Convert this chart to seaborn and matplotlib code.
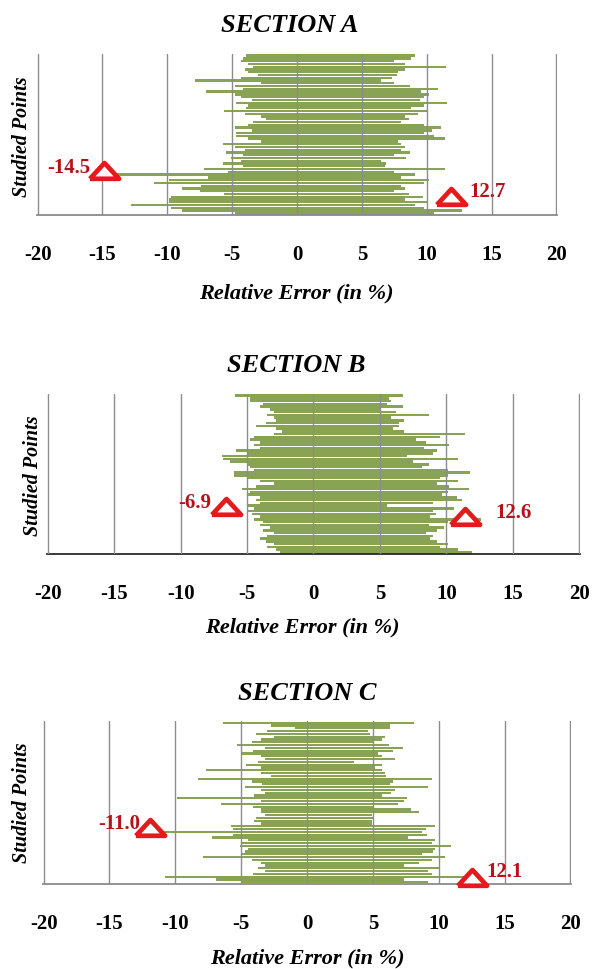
import numpy as np
import pandas as pd
import matplotlib
matplotlib.use("Agg")
import matplotlib.pyplot as plt
import seaborn as sns

# ---------------- data (rows listed top -> bottom) ----------------
A_neg = [-3.9, -4.2, -4.3, -3.8, -3.4, -4.0, -3.8, -3.0, -4.3, -7.9, -2.8, -4.8, -4.2, -7.0, -4.8,
         -4.3, -3.5, -4.7, -3.8, -3.9, -5.6, -4.0, -2.8, -2.4, -3.4, -3.8, -4.8, -3.5, -4.7,
         -4.7, -3.8, -2.8, -5.7, -4.8, -4.0, -5.5, -4.2, -5.1, -4.3, -5.7, -4.2, -7.2, -5.3, -14.5,
         -6.9, -9.9, -11.0, -7.4, -8.9, -7.5, -5.6, -9.7, -9.9, -9.9, -12.8, -9.7, -8.9, -4.8]
A_pos = [9.1, 8.8, 7.5, 8.3, 11.5, 8.3, 7.8, 7.7, 7.3, 6.5, 7.5, 8.7, 10.9, 9.6, 10.2,
         9.8, 9.5, 11.6, 9.8, 8.8, 10.1, 9.3, 8.3, 8.6, 8.0, 9.8, 11.1, 10.4, 9.8,
         10.6, 11.4, 7.8, 8.0, 8.3, 8.0, 8.7, 7.5, 8.4, 6.5, 6.9, 6.8, 11.4, 7.5, 9.1,
         8.0, 10.2, 9.8, 8.0, 8.3, 7.5, 8.6, 9.7, 8.3, 10.1, 9.1, 9.8, 12.7, 10.6]

B_neg = [-5.9, -4.8, -4.8, -3.8, -4.0, -3.3, -3.0, -3.5, -3.0, -2.8, -3.6, -4.3, -2.8, -2.4, -3.0,
         -4.5, -4.8, -4.0, -4.5, -4.0, -5.8, -5.0, -6.9, -6.8, -6.3, -5.0, -4.8, -4.5, -6.0,
         -6.0, -5.0, -4.0, -3.0, -4.3, -5.4, -4.8, -5.0, -4.0, -4.3, -4.0, -5.0, -4.5, -5.0, -4.6,
         -4.0, -4.5, -3.8, -4.0, -3.3, -3.8, -3.0, -3.5, -4.0, -3.6, -3.0, -3.5, -2.8, -2.5]
B_pos = [6.7, 5.7, 5.8, 5.5, 6.7, 5.0, 6.2, 8.7, 5.8, 6.8, 6.4, 6.4, 6.0, 6.8, 11.4,
         9.5, 7.7, 8.5, 10.2, 8.3, 9.3, 9.0, 7.0, 10.9, 7.5, 8.7, 8.2, 10.1, 11.8,
         10.1, 9.5, 10.9, 9.3, 10.2, 11.7, 10.1, 9.7, 10.8, 11.2, 9.0, 5.5, 10.6, 9.0, 9.2,
         8.8, 12.6, 10.1, 8.7, 9.8, 9.3, 8.5, 9.0, 8.8, 9.3, 10.1, 9.5, 10.9, 11.9]

C_neg = [-6.4, -2.7, -0.9, -3.0, -3.9, -2.5, -3.5, -4.2, -5.3, -3.2, -4.1, -5.0, -3.5, -3.2, -3.7,
         -4.6, -3.5, -7.7, -3.5, -2.7, -8.3, -4.2, -3.4, -4.7, -3.5, -3.2, -4.0, -9.9, -3.5,
         -6.5, -4.1, -3.5, -3.5, -3.2, -3.9, -4.0, -3.5, -5.8, -5.6, -11.0, -5.6, -7.2, -4.5, -5.0,
         -5.1, -4.5, -4.7, -5.0, -7.9, -4.2, -3.5, -3.2, -3.7, -3.2, -4.1, -10.8, -6.9, -4.9]
C_pos = [8.1, 6.3, 6.3, 4.6, 4.8, 5.9, 5.7, 5.0, 6.2, 7.3, 6.5, 5.4, 5.7, 6.7, 3.6,
         5.7, 5.2, 5.7, 5.9, 6.0, 9.5, 6.5, 6.3, 9.2, 6.7, 6.4, 5.7, 7.6, 7.4,
         6.9, 5.0, 7.9, 8.5, 4.9, 5.0, 4.9, 4.9, 9.7, 9.0, 8.7, 9.1, 7.7, 9.7, 9.5,
         10.9, 9.7, 9.6, 8.7, 10.5, 9.5, 8.5, 7.4, 10.0, 9.2, 9.5, 12.1, 7.4, 9.2]

sections = ["SECTION A", "SECTION B", "SECTION C"]
extreme_labels = [["-14.5", "12.7"], ["-6.9", "12.6"], ["-11.0", "12.1"]]
x_ticks = [-20, -15, -10, -5, 0, 5, 10, 15, 20]
x_label = "Relative Error (in %)"
y_label = "Studied Points"

# ---------------- styling / layout ----------------
W, H = 595, 970
sns.set_style("white")
plt.rcParams["font.family"] = ["Liberation Serif", "DejaVu Serif"]
plt.rcParams["text.color"] = "black"
plt.rcParams["xtick.color"] = "black"

fig = plt.figure(figsize=(W / 100, H / 100), dpi=100)

def fx(x):
    return x / W

def fy(y):
    return 1 - y / H

# axes boxes in pixels: left, right, top, bottom
boxes = [(37, 557, 55, 216), (47, 580, 395, 555), (43, 571, 722, 885)]
title_pos = [(290, 26), (296, 365), (307, 693)]
xlab_pos = [(296, 293), (302, 627), (307, 958)]
ylab_pos = [(22, 137), (33, 476), (22, 803)]
# marker (x value, row) and label anchor (x value, row, ha)
mark_spec = [
    [(-14.9, 41.8, -15.9, 40.4, "right"), (11.9, 51.0, 13.3, 49.0, "left")],
    [(-6.6, 40.6, -7.7, 38.7, "right"), (11.4, 44.0, 13.7, 42.3, "left")],
    [(-11.9, 37.6, -12.7, 35.8, "right"), (12.5, 55.3, 13.6, 53.0, "left")],
]
spine_colors = ["#8a8a8a", "#2a2a2a", "#8a8a8a"]

bar_color = "#739437"
tri_verts = [(-1.0, -0.5), (1.0, -0.5), (0.0, 0.58), (-1.0, -0.5)]

data = [(A_neg, A_pos), (B_neg, B_pos), (C_neg, C_pos)]

for k, (neg, pos) in enumerate(data):
    l, r, t, b = boxes[k]
    ax = fig.add_axes([fx(l), fy(b), fx(r) - fx(l), fy(t) - fy(b)])
    n = len(neg)
    rows = np.arange(n)
    df_neg = pd.DataFrame({"row": rows, "value": neg})
    df_pos = pd.DataFrame({"row": rows, "value": pos})
    for df in (df_neg, df_pos):
        sns.barplot(data=df, x="value", y="row", orient="h", native_scale=True,
                    color=bar_color, saturation=1, width=0.84, alpha=0.86,
                    errorbar=None, linewidth=0, ax=ax)
    ax.set_ylim(n - 0.4, -0.6)
    ax.set_xlim(-20.05, 20.05)
    ax.set_xticks(x_ticks)
    ax.set_xticklabels([str(v) for v in x_ticks], fontsize=15, fontweight="bold")
    ax.tick_params(axis="x", length=0, pad=21)
    ax.set_yticks([])
    ax.set_xlabel("")
    ax.set_ylabel("")
    ax.set_axisbelow(False)
    ax.grid(axis="x", color="#8c8c8c", linewidth=1.0, zorder=3)
    ax.grid(axis="y", visible=False)
    for s in ("top", "right", "left"):
        ax.spines[s].set_visible(False)
    ax.spines["bottom"].set_color(spine_colors[k])
    ax.spines["bottom"].set_linewidth(1.3)

    for (mx, my, tx, ty, ha), lab in zip(mark_spec[k], extreme_labels[k]):
        ax.plot([mx], [my], marker=tri_verts, markersize=21, markerfacecolor="white",
                markeredgecolor="#e41a1c", markeredgewidth=3.4, linestyle="none",
                zorder=6, clip_on=False)
        ax.text(tx, ty, lab, ha=ha, va="center", color="#b5121b", fontsize=15,
                fontweight="bold", zorder=7, clip_on=False)

    fig.text(fx(title_pos[k][0]), fy(title_pos[k][1]), sections[k], ha="center", va="center",
             fontsize=19, fontweight="bold", fontstyle="italic")
    fig.text(fx(xlab_pos[k][0]), fy(xlab_pos[k][1]), x_label, ha="center", va="center",
             fontsize=16, fontweight="bold", fontstyle="italic")
    fig.text(fx(ylab_pos[k][0]), fy(ylab_pos[k][1]), y_label, ha="center", va="center",
             rotation=90, fontsize=14.5, fontweight="bold", fontstyle="italic")

fig.savefig("out.png", dpi=100)
